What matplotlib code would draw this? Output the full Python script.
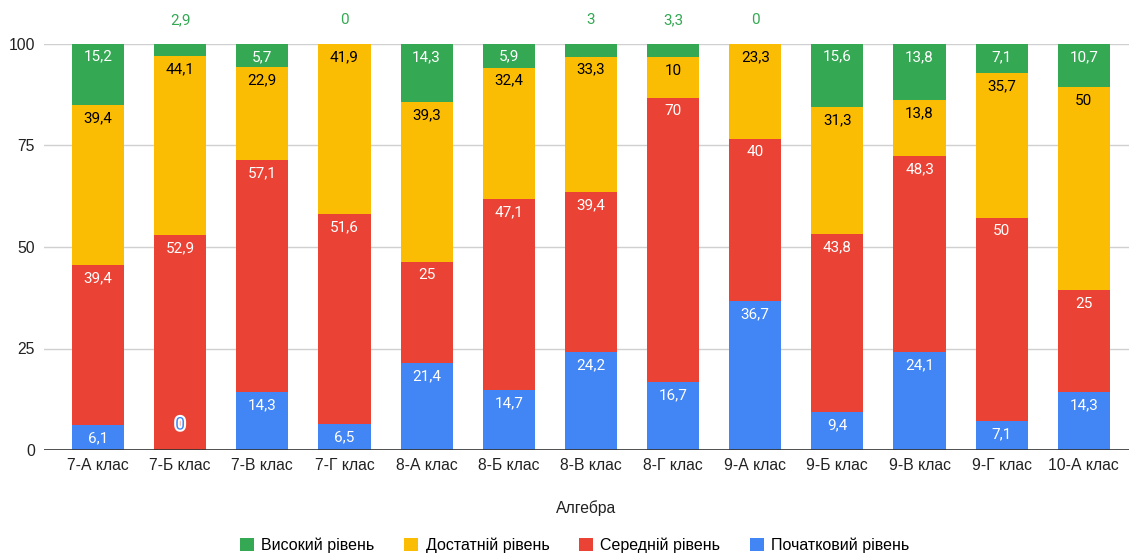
import matplotlib.pyplot as plt
import matplotlib.patheffects as pe
import numpy as np

plt.rcParams['font.family'] = ['Liberation Sans', 'DejaVu Sans']

classes = ['7-А клас', '7-Б клас', '7-В клас', '7-Г клас', '8-А клас', '8-Б клас',
           '8-В клас', '8-Г клас', '9-А клас', '9-Б клас', '9-В клас', '9-Г клас', '10-А клас']
pochatkovyi = [6.1, 0, 14.3, 6.5, 21.4, 14.7, 24.2, 16.7, 36.7, 9.4, 24.1, 7.1, 14.3]
serednii = [39.4, 52.9, 57.1, 51.6, 25, 47.1, 39.4, 70, 40, 43.8, 48.3, 50, 25]
dostatnii = [39.4, 44.1, 22.9, 41.9, 39.3, 32.4, 33.3, 10, 23.3, 31.3, 13.8, 35.7, 50]
vysokyi = [15.2, 2.9, 5.7, 0, 14.3, 5.9, 3, 3.3, 0, 15.6, 13.8, 7.1, 10.7]

series = [
    ('Початковий рівень', pochatkovyi, '#4285F4', 'white'),
    ('Середній рівень', serednii, '#EA4335', 'white'),
    ('Достатній рівень', dostatnii, '#FBBC04', 'black'),
    ('Високий рівень', vysokyi, '#34A853', 'white'),
]


def fmt(v):
    return f'{v:g}'.replace('.', ',')


fig = plt.figure(figsize=(11.29, 5.53), dpi=100)
ax = fig.add_axes([44 / 1129, 1 - 450 / 553, 1 - 44 / 1129, (450 - 44) / 553])

lab_font = ['Roboto', 'DejaVu Sans']
x = np.arange(len(classes))
bottom = np.zeros(len(classes))
handles = {}
for name, vals, color, tcolor in series:
    vals = np.array(vals, dtype=float)
    bars = ax.bar(x, vals, 0.635, bottom=bottom, color=color, label=name, zorder=3)
    handles[name] = bars
    for i, v in enumerate(vals):
        top = bottom[i] + v
        if v == 0 and name == 'Початковий рівень':
            ax.annotate(fmt(v), (x[i], 0), xytext=(0, 18), textcoords='offset points',
                        ha='center', va='center', fontsize=12.5, color=color, family=lab_font,
                        path_effects=[pe.withStroke(linewidth=3, foreground='white')],
                        zorder=5)
        elif v < 5:
            if name == 'Високий рівень':
                ax.annotate(fmt(v), (x[i], 100), xytext=(0, 17), textcoords='offset points',
                            ha='center', va='center', fontsize=11, color=color, family=lab_font,
                            annotation_clip=False, zorder=5)
        else:
            ax.annotate(fmt(v), (x[i], top), xytext=(0, -9.5), textcoords='offset points',
                        ha='center', va='center', fontsize=11, color=tcolor, family=lab_font,
                        zorder=5)
    bottom += vals

ax.set_ylim(0, 100)
ax.set_xlim(-0.657, 12.55)
ax.set_yticks([0, 25, 50, 75, 100])
ax.grid(axis='y', color='#d0d0d0', linewidth=1, zorder=0)
ax.axhline(0, color='#333333', linewidth=1.2, zorder=4)
for s in ax.spines.values():
    s.set_visible(False)
ax.set_xticks(x)
ax.set_xticklabels(classes)
ax.tick_params(length=0, labelsize=11.3, colors='#222222')
ax.tick_params(axis='y', pad=6.5)
ax.tick_params(axis='x', pad=6)
ax.set_xlabel('Алгебра', fontsize=11.3, color='#222222', labelpad=19)

order = ['Високий рівень', 'Достатній рівень', 'Середній рівень', 'Початковий рівень']
fig.legend([handles[n] for n in order], order, loc='center', bbox_to_anchor=(0.509, 1 - 545 / 553),
           ncol=4, frameon=False, fontsize=11.5, handlelength=0.9, handleheight=0.9,
           columnspacing=1.85, handletextpad=0.45)

fig.savefig('out.png', dpi=100)
